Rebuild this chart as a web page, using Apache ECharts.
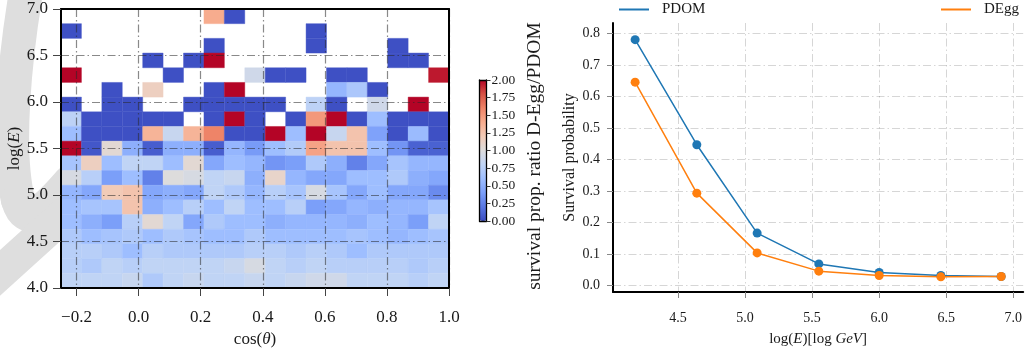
<!DOCTYPE html>
<html><head><meta charset="utf-8">
<script src="https://cdn.jsdelivr.net/npm/echarts@6/dist/echarts.min.js"></script>
<style>html,body{margin:0;padding:0;background:#fff}#c{width:1025px;height:354px}</style>
</head><body><div id="c"></div><script>
// ---- heatmap (left) ----
const xEdges = [-0.25, -0.1842, -0.1184, -0.0526, 0.0132, 0.0789, 0.1447, 0.2105, 0.2763, 0.3421, 0.4079, 0.4737, 0.5395, 0.6053, 0.6711, 0.7368, 0.8026, 0.8684, 0.9342, 1.0];
const yEdges = [4.0, 4.1579, 4.3158, 4.4737, 4.6316, 4.7895, 4.9474, 5.1053, 5.2632, 5.4211, 5.5789, 5.7368, 5.8947, 6.0526, 6.2105, 6.3684, 6.5263, 6.6842, 6.8421, 7.0];
const n = null;
// rows listed from the top (log E = 7.0) down to the bottom (log E = 4.0)
const ratioRows = [
  [n,n,n,n,n,n,n,1.4,0.02,n,n,n,n,n,n,n,n,n,n],
  [0.02,n,n,n,n,n,n,n,n,n,n,n,0.02,n,n,n,n,n,n],
  [n,n,n,n,n,n,n,0.02,n,n,n,n,0.02,n,n,n,0.02,n,n],
  [n,n,n,n,0.02,n,0.02,2.0,n,n,n,n,n,n,n,n,0.02,0.02,n],
  [2.0,n,n,n,n,0.02,n,n,n,0.9,0.02,0.02,n,0.02,0.02,n,n,n,1.95],
  [n,n,0.02,n,1.15,n,n,0.02,2.0,n,n,n,n,0.55,0.68,0.02,n,n,n],
  [0.02,n,0.02,0.02,n,n,0.02,0.02,0.02,0.02,0.02,n,0.78,0.02,n,0.9,n,2.0,n],
  [0.78,0.02,0.02,0.02,0.02,0.02,n,0.02,2.0,0.02,n,0.02,1.5,2.0,0.02,0.6,0.02,0.02,0.02],
  [0.6,0.02,0.02,0.02,1.35,0.85,1.35,1.6,0.02,0.02,2.0,0.6,2.0,0.85,1.25,0.42,0.02,0.58,0.02],
  [2.0,0.05,1.05,0.5,0.08,0.5,0.5,0.08,0.55,0.38,0.6,0.72,1.45,1.25,1.25,0.6,0.35,0.1,0.1],
  [0.65,1.15,0.6,0.8,0.8,0.6,1.05,0.45,0.6,0.55,0.35,0.4,0.7,0.5,0.25,0.45,0.65,0.55,0.55],
  [0.95,0.75,0.4,0.6,0.25,1.0,0.95,0.8,0.85,0.5,1.1,0.55,0.45,0.45,0.6,0.6,0.7,0.5,0.45],
  [0.55,0.45,1.2,1.25,0.45,0.5,0.45,0.8,0.7,0.55,0.75,0.65,0.95,0.65,0.45,0.6,0.45,0.45,0.3],
  [0.6,0.65,0.65,1.25,0.5,0.6,0.75,0.6,0.8,0.6,0.6,0.75,0.4,0.45,0.55,0.5,0.55,0.55,0.65],
  [0.6,0.5,0.4,0.75,1.05,0.8,0.45,0.7,0.6,0.6,0.5,0.55,0.55,0.55,0.5,0.6,0.55,0.4,0.8],
  [0.7,0.6,0.65,0.7,0.6,0.7,0.65,0.6,0.6,0.7,0.6,0.6,0.6,0.6,0.65,0.6,0.55,0.6,0.65],
  [0.75,0.75,0.7,0.6,0.75,0.7,0.7,0.7,0.7,0.75,0.75,0.7,0.75,0.7,0.6,0.7,0.7,0.7,0.7],
  [0.75,0.7,0.8,0.75,0.8,0.8,0.8,0.8,0.85,0.95,0.8,0.75,0.8,0.75,0.75,0.75,0.75,0.7,0.75],
  [0.8,0.8,0.8,0.85,0.7,0.8,0.85,0.8,0.8,0.85,0.8,0.85,0.9,0.9,0.8,0.8,0.8,0.75,0.8]
];
const heatXTicks = [-0.2, 0.0, 0.2, 0.4, 0.6, 0.8, 1.0];
const coolwarm = ['#3b4cc0','#5977e3','#7b9ff9','#9ebeff','#c0d4f5','#dddcdc','#f2cbb7','#f7ac8e','#ee8468','#d65244','#b40426'];

// ---- survival probability (right) ----
const logE = [4.18, 4.64, 5.09, 5.55, 6.00, 6.46, 6.91];
const pdom = [0.781, 0.447, 0.166, 0.068, 0.041, 0.031, 0.028];
const degg = [0.646, 0.293, 0.103, 0.045, 0.031, 0.027, 0.028];
const survXTicks = [4.5, 5.0, 5.5, 6.0, 6.5, 7.0];
const survYTicks = [0.0, 0.1, 0.2, 0.3, 0.4, 0.5, 0.6, 0.7, 0.8];

const FONT = '"Liberation Serif", "DejaVu Serif", serif';
const TXT = '#1a1a1a';

const cells = [];
ratioRows.forEach((row, t) => {
  const r = ratioRows.length - 1 - t;
  row.forEach((v, c) => {
    if (v !== null) cells.push([xEdges[c], yEdges[r], xEdges[c + 1], yEdges[r + 1], v]);
  });
});

const fmtMinus = v => (v < 0 ? '\u2212' + Math.abs(v).toFixed(1) : v.toFixed(1));
const darkGrid = { show: true, lineStyle: { color: 'rgba(40,40,40,0.55)', width: 1.2, type: [8, 3, 1.5, 3] } };
const lightGrid = { show: true, lineStyle: { color: 'rgba(0,0,0,0.16)', width: 1, type: [8, 3, 1.5, 3] } };
const blackLine = w => ({ show: true, onZero: false, lineStyle: { color: '#000', width: w } });
const none = { show: false };
const italicRich = size => ({ i: { fontStyle: 'italic', fontFamily: FONT, fontSize: size, color: TXT } });
const WM = '#dedede';

const option = {
  animation: false,
  backgroundColor: '#fff',
  grid: [
    { left: 61, top: 9, width: 388, height: 279, show: true, borderWidth: 0, backgroundColor: 'rgba(255,255,255,0.88)' },
    { left: 613, top: 23, width: 412, height: 269 },
    { left: 479.5, top: 80, width: 7, height: 141 }
  ],
  xAxis: [
    { gridIndex: 0, type: 'value', min: -0.25, max: 1.0, position: 'bottom', z: 10,
      axisLine: blackLine(2),
      axisTick: { customValues: heatXTicks, length: 8, lineStyle: { color: '#444' } },
      axisLabel: { customValues: heatXTicks, formatter: fmtMinus, fontSize: 17, fontFamily: FONT, color: TXT, margin: 21 },
      splitLine: darkGrid,
      name: 'cos({i|θ})', nameLocation: 'middle', nameGap: 43,
      nameTextStyle: { fontSize: 17, fontFamily: FONT, color: TXT, rich: italicRich(17) } },
    { gridIndex: 0, type: 'value', min: -0.25, max: 1.0, position: 'top', z: 10,
      axisLine: blackLine(2), axisTick: none, axisLabel: none, splitLine: none },
    { gridIndex: 1, type: 'value', min: 4.015, max: 7.074, position: 'bottom',
      axisLine: blackLine(2),
      axisTick: { customValues: survXTicks, length: 6, lineStyle: { color: '#888' } },
      axisLabel: { customValues: survXTicks, formatter: v => v.toFixed(1), fontSize: 14, fontFamily: FONT, color: TXT, margin: 19 },
      splitLine: lightGrid,
      name: 'log({i|E})[log {i|GeV}]', nameLocation: 'middle', nameGap: 40,
      nameTextStyle: { fontSize: 15, fontFamily: FONT, color: TXT, rich: italicRich(15) } },
    { gridIndex: 2, type: 'value', min: 0, max: 1, position: 'bottom', z: 10,
      axisLine: blackLine(1.3), axisTick: none, axisLabel: none, splitLine: none },
    { gridIndex: 2, type: 'value', min: 0, max: 1, position: 'top', z: 10,
      axisLine: blackLine(1.3), axisTick: none, axisLabel: none, splitLine: none }
  ],
  yAxis: [
    { gridIndex: 0, type: 'value', min: 4.0, max: 7.0, interval: 0.5, position: 'left', z: 10,
      axisLine: blackLine(2),
      axisTick: { length: 8, lineStyle: { color: '#444' } },
      axisLabel: { formatter: v => v.toFixed(1), fontSize: 17, fontFamily: FONT, color: TXT, margin: 13 },
      splitLine: darkGrid,
      name: 'log({i|E})', nameLocation: 'middle', nameGap: 36, nameRotate: 90,
      nameTextStyle: { fontSize: 17, fontFamily: FONT, color: TXT, rich: italicRich(17) } },
    { gridIndex: 0, type: 'value', min: 4.0, max: 7.0, position: 'right', z: 10,
      axisLine: blackLine(2), axisTick: none, axisLabel: none, splitLine: none },
    { gridIndex: 1, type: 'value', min: -0.0213, max: 0.834, position: 'left',
      axisLine: blackLine(2),
      axisTick: { customValues: survYTicks, length: 6, lineStyle: { color: '#888' } },
      axisLabel: { customValues: survYTicks, formatter: v => v.toFixed(1), fontSize: 14, fontFamily: FONT, color: TXT, margin: 13 },
      splitLine: lightGrid,
      name: 'Survival probability', nameLocation: 'middle', nameGap: 35, nameRotate: 90,
      nameTextStyle: { fontSize: 16, fontFamily: FONT, color: TXT } },
    { gridIndex: 2, type: 'value', min: 0, max: 2, interval: 0.25, position: 'right', z: 10,
      axisLine: blackLine(1.3),
      axisTick: { length: 4, lineStyle: { color: '#333' } },
      axisLabel: { formatter: v => v.toFixed(2), fontSize: 13.5, fontFamily: FONT, color: TXT, margin: 5 },
      splitLine: none },
    { gridIndex: 2, type: 'value', min: 0, max: 2, position: 'left', z: 10,
      axisLine: blackLine(1.3), axisTick: none, axisLabel: none, splitLine: none }
  ],
  visualMap: {
    type: 'continuous', min: 0, max: 2, seriesIndex: 0, dimension: 4,
    left: 479.5, top: 80, itemWidth: 7, itemHeight: 141, padding: 0,
    calculable: false, show: true, text: null, showLabel: false,
    inRange: { color: coolwarm }
  },
  legend: [
    { data: ['PDOM'], left: 619, top: 2, padding: 0, icon: 'rect', itemWidth: 30, itemHeight: 2,
      textStyle: { fontSize: 15, fontFamily: FONT, color: TXT, padding: [0, 0, 0, 8] } },
    { data: ['DEgg'], left: 941, top: 2, padding: 0, icon: 'rect', itemWidth: 30, itemHeight: 2,
      textStyle: { fontSize: 15, fontFamily: FONT, color: TXT, padding: [0, 0, 0, 8] } }
  ],
  graphic: [
    // faint watermark ribbon behind the left panel
    { type: 'bezierCurve', z: -10, silent: true,
      shape: { x1: 28, y1: -20, cpx1: 14, cpy1: 60, cpx2: 6, cpy2: 150, x2: 18, y2: 200 },
      style: { fill: null, stroke: WM, lineWidth: 34, lineCap: 'round' } },
    { type: 'bezierCurve', z: -10, silent: true,
      shape: { x1: 18, y1: 200, cpx1: 26, cpy1: 228, cpx2: 44, cpy2: 212, x2: 70, y2: 182 },
      style: { fill: null, stroke: WM, lineWidth: 34, lineCap: 'round' } },
    { type: 'line', z: -10, silent: true,
      shape: { x1: -30, y1: 300, x2: 75, y2: 205 },
      style: { stroke: WM, lineWidth: 34 } },
    { type: 'text', x: 535, y: 156, rotation: Math.PI / 2, z: 20,
      style: { text: 'survival prop. ratio D-Egg/PDOM', fontSize: 19.5, fontFamily: FONT, fill: TXT,
               textAlign: 'center', textVerticalAlign: 'middle' } }
  ],
  series: [
    { type: 'custom', name: 'ratio', xAxisIndex: 0, yAxisIndex: 0, clip: true,
      dimensions: ['x0', 'y0', 'x1', 'y1', 'ratio'],
      encode: { x: [0, 2], y: [1, 3] },
      data: cells,
      renderItem: (params, api) => {
        const p0 = api.coord([api.value(0), api.value(3)]);
        const p1 = api.coord([api.value(2), api.value(1)]);
        const col = api.visual('color');
        return { type: 'rect', shape: { x: p0[0], y: p0[1], width: p1[0] - p0[0], height: p1[1] - p0[1] },
                 style: { fill: col, stroke: col, lineWidth: 0.4 } };
      } },
    { type: 'line', name: 'PDOM', xAxisIndex: 2, yAxisIndex: 2, data: logE.map((x, i) => [x, pdom[i]]),
      color: '#1f77b4', lineStyle: { width: 1.5 }, symbol: 'circle', symbolSize: 9, itemStyle: { color: '#1f77b4' } },
    { type: 'line', name: 'DEgg', xAxisIndex: 2, yAxisIndex: 2, data: logE.map((x, i) => [x, degg[i]]),
      color: '#ff7f0e', lineStyle: { width: 1.5 }, symbol: 'circle', symbolSize: 9, itemStyle: { color: '#ff7f0e' } }
  ]
};
const chart = echarts.init(document.getElementById('c'), null, { renderer: 'canvas' });
chart.setOption(option);
</script></body></html>
